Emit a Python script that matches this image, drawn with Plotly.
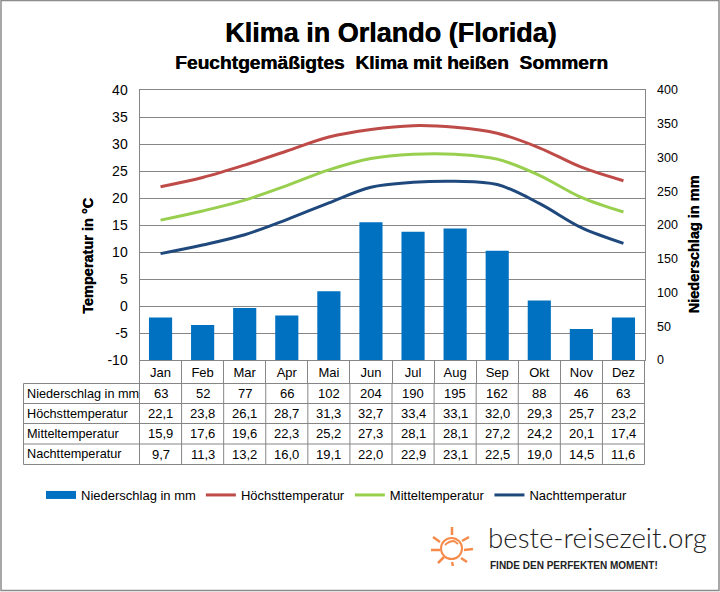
import plotly.graph_objects as go

months = ["Jan","Feb","Mar","Apr","Mai","Jun","Jul","Aug","Sep","Okt","Nov","Dez"]
rain = [63,52,77,66,102,204,190,195,162,88,46,63]
tmax = [22.1,23.8,26.1,28.7,31.3,32.7,33.4,33.1,32.0,29.3,25.7,23.2]
tmean = [15.9,17.6,19.6,22.3,25.2,27.3,28.1,28.1,27.2,24.2,20.1,17.4]
tmin = [9.7,11.3,13.2,16.0,19.1,22.0,22.9,23.1,22.5,19.0,14.5,11.6]
row_labels = ["Niederschlag in mm","Höchsttemperatur","Mitteltemperatur","Nachttemperatur"]
y_ticks = [-10,-5,0,5,10,15,20,25,30,35,40]
y_tick_labels = ["-10","-5","0","5","10","15","20","25","30","35","40"]
y2_ticks = [0,50,100,150,200,250,300,350,400]

W, H = 720, 592
FONT = "Liberation Sans"
GRID = "#868686"
BAR = "#0070C0"
HEAVY = "0.5px 0 0 black"
px = lambda v: v / W
py = lambda v: 1 - v / H
de = lambda v: f"{v:.1f}".replace(".", ",")

fig = go.Figure()
fig.add_bar(x=months, y=rain, name="Niederschlag in mm", yaxis="y2", showlegend=False,
            marker=dict(color=BAR, line_width=0), width=0.55)
fig.add_scatter(x=[None], y=[None], name="Niederschlag in mm", mode="lines", line=dict(color=BAR, width=8))
for name, vals, col in [("Höchsttemperatur", tmax, "#BE4B48"),
                        ("Mitteltemperatur", tmean, "#98CF4E"),
                        ("Nachttemperatur", tmin, "#1F497D")]:
    fig.add_scatter(x=months, y=vals, name=name, mode="lines", yaxis="y",
                    line=dict(color=col, width=3, shape="spline", smoothing=1))

def pline(x0, y0, x1, y1, color=GRID, width=1):
    return dict(type="line", xref="paper", yref="paper", x0=px(x0), x1=px(x1), y0=py(y0), y1=py(y1),
                line=dict(color=color, width=width))

shapes = [dict(type="rect", xref="paper", yref="paper", x0=px(1), x1=px(719), y0=py(0.5), y1=py(590.5),
               line=dict(color="#8c8c8c", width=1.5))]
# table grid
row_y = [383.5, 403.5, 423.5, 444, 464.5]
for y in row_y:
    shapes.append(pline(23.5, y, 644.5, y))
shapes.append(pline(23.5, row_y[0], 23.5, row_y[-1]))
for i in range(13):
    x = 139.5 + i * 505 / 12
    shapes.append(pline(x, row_y[0], x, row_y[-1]))

SUN = "#F58A4B"
for x0, y0, x1, y1 in [(452,527,452,535),(433,537,440,542),(431,550,440,550),(438,563,444,557),
                       (452,562,453,566),(461,558,467,562),(464,550,473,549),(462,541,469,537)]:
    shapes.append(pline(x0, y0, x1, y1, SUN, 2.5))
shapes.append(dict(type="circle", xref="paper", yref="paper", x0=px(441), x1=px(462), y0=py(559), y1=py(538),
                   line=dict(color=SUN, width=2)))
# swirl inside the sun
sx = [445, 449, 454, 458]
sy = [545, 541, 541, 544]
shapes.append(dict(type="path", xref="paper", yref="paper",
                   path=f"M {px(sx[0])} {py(sy[0])} Q {px(sx[1])} {py(sy[1])} {px(sx[2])} {py(sy[2])} L {px(sx[3])} {py(sy[3])}",
                   line=dict(color=SUN, width=1.8)))

annotations = [
    dict(text="Klima in Orlando (Florida)", x=px(391.5), y=py(33), font=dict(size=27, weight="bold", shadow=HEAVY)),
    dict(text="Feuchtgemäßigtes  Klima mit heißen  Sommern", x=px(391.5), y=py(63), font=dict(size=19.2, weight="bold", shadow=HEAVY)),
    dict(text="beste-reisezeit.org", x=px(597.5), y=py(537), font=dict(family="Lato", size=27.7, color="#222222", weight=300)),
    dict(text="FINDE DEN PERFEKTEN MOMENT!", x=px(488), y=py(565), xanchor="left", font=dict(size=10, color="#222222", weight="bold")),
    dict(text="Temperatur in °C", x=px(88), y=py(256), textangle=-90, font=dict(size=14.5, weight="bold", shadow=HEAVY)),
    dict(text="Niederschlag in mm", x=px(693), y=py(244.5), textangle=-90, font=dict(size=14.5, weight="bold", shadow=HEAVY)),
]
rows = [[str(v) for v in rain], [de(v) for v in tmax], [de(v) for v in tmean], [de(v) for v in tmin]]
for r, (label, cells) in enumerate(zip(row_labels, rows)):
    yc = py((row_y[r] + row_y[r + 1]) / 2)
    annotations.append(dict(text=label, x=px(25), y=yc, xanchor="left", font=dict(size=12.7)))
    for m, c in zip(months, cells):
        annotations.append(dict(text=c, x=m, xref="x", y=yc, font=dict(size=13)))
for a in annotations:
    a.setdefault("xref", "paper")
    a.update(yref="paper", showarrow=False, xanchor=a.get("xanchor", "center"), yanchor="middle")

fig.update_layout(
    width=W, height=H, margin=dict(l=0, r=0, t=0, b=0, autoexpand=False), autosize=False,
    paper_bgcolor="white", plot_bgcolor="white",
    font=dict(family=FONT, size=12, color="black"),
    shapes=shapes, annotations=annotations,
    xaxis=dict(domain=[px(139.5), px(644.5)], anchor="y", type="category", tickson="boundaries",
               ticks="outside", ticklen=23, tickcolor=GRID, showgrid=False, showline=True,
               linecolor=GRID, linewidth=1, mirror=True, tickfont=dict(size=13), range=[-0.5, 11.5]),
    yaxis=dict(domain=[py(360), py(90)], range=[-10, 40], tickvals=y_ticks, ticktext=y_tick_labels, ticks="",
               showgrid=True, gridcolor=GRID, gridwidth=1, zeroline=False, showline=True, linecolor=GRID,
               tickfont=dict(size=14), ticklabelstandoff=8),
    yaxis2=dict(overlaying="y", side="right", anchor="x", range=[0, 400], tickvals=y2_ticks, ticks="",
                showgrid=False, zeroline=False, showline=True, linecolor=GRID,
                tickfont=dict(size=12.5), ticklabelstandoff=9),
    legend=dict(orientation="h", x=px(41), y=py(495), yanchor="middle",
                xanchor="left", font=dict(size=13), bgcolor="rgba(0,0,0,0)", traceorder="normal"),
)
fig.write_html("out.html", post_script="document.body.style.margin='0';", config=dict(displayModeBar=False))
